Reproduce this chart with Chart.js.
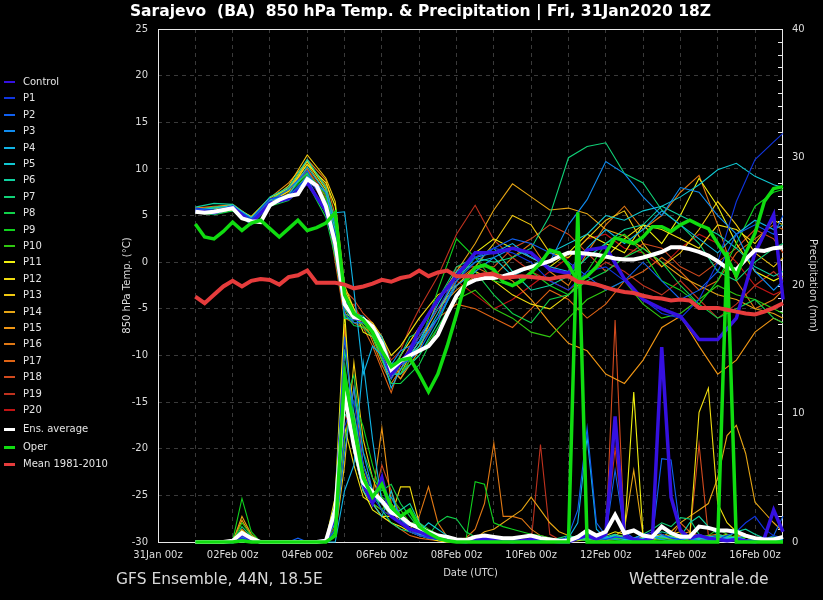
<!DOCTYPE html>
<html>
<head>
<meta charset="utf-8">
<script src="https://cdn.jsdelivr.net/npm/chart.js@4.4.1/dist/chart.umd.min.js"></script>
<style>
  html, body { margin: 0; padding: 0; background: #000; }
  #wrap { position: relative; width: 823px; height: 600px; background: #000; overflow: hidden; font-family: "DejaVu Sans", sans-serif; }
  #chart { position: absolute; left: 0; top: 0; }
  #title { position: absolute; left: 0; width: 841px; top: 2px; text-align: center; color: #fff; font-weight: bold; font-size: 15.5px; white-space: pre; }
  .foot { position: absolute; top: 570px; color: #d8d8d8; font-size: 15.5px; white-space: pre; }
  #legend .item { position: absolute; left: 0; height: 14px; color: #e4e4e4; font-size: 10px; white-space: pre; }
  #legend .swatch { position: absolute; left: 4px; width: 11px; }
  #legend .label { position: absolute; left: 23px; top: 0; line-height: 14px; }
</style>
</head>
<body>
<div id="wrap">
  <canvas id="chart" width="823" height="600"></canvas>
  <div id="title">Sarajevo  (BA)  850 hPa Temp. &amp; Precipitation | Fri, 31Jan2020 18Z</div>
  <div id="legend"></div>
  <div class="foot" style="left:116px">GFS Ensemble, 44N, 18.5E</div>
  <div class="foot" style="left:629px">Wetterzentrale.de</div>
</div>
<script>
// forecast hours counted from 31Jan 00z
const hours6 = [24,30,36,42,48,54,60,66,72,78,84,90,96,102,108,114,120,126,132,138,144,150,156,162,
  168,174,180,186,192,198,204,210,216,222,228,234,240,246,252,258,264,270,276,282,288,294,300,306,
  312,318,324,330,336,342,348,354,360,366,372,378,384,390,396,402];
const hoursM = [24,36,48,60,72,84,96,108,114,120,126,132,138,144,150,156,162,168,180,192,204,216,
  228,240,252,264,276,288,300,312,324,336,348,360,372,384,396,402];

const dateLabels = ['31Jan 00z','02Feb 00z','04Feb 00z','06Feb 00z','08Feb 00z','10Feb 00z','12Feb 00z','14Feb 00z','16Feb 00z'];
const gridHours = [0,24,48,72,96,120,144,168,192,216,240,264,288,312,336,360,384];

const memberNames = ['Control','P1','P2','P3','P4','P5','P6','P7','P8','P9','P10',
  'P11','P12','P13','P14','P15','P16','P17','P18','P19','P20'];
const memberColors = ['#3510e0','#1035e0','#1060f0','#108cf0','#10b4e6','#10c8d2','#10d2a0','#10d278',
  '#10d24a','#10d21e','#30c810','#f0f010','#f0dc10','#f0c810','#e6a514','#f09614','#e07814',
  '#e06414','#d24a1e','#c0321e','#c01414'];

// 850 hPa temperature (°C), members on hoursM
const tControl = [5.5,5.3,5.9,4.2,6.3,6.8,8.5,5.5, 2.0,-4.5,-6.0,-6.2,-7.0,-9.0,-12.0,-10.8,-9.5,-7.2,
  -4.0,-1.5,1.0,1.0,1.5,1.0,-0.8,-1.2,1.3,1.6,-1.8,-4.0,-5.0,-5.8,-8.3,-8.3,-6.0,1.0,5.1,-4.0];
const tP1 = [5.8,5.6,6.0,4.6,6.8,7.2,9.0,6.5, 3.0,-4.0,-5.8,-6.0,-6.8,-8.5,-11.5,-10.5,-9.8,-8.0,
  -5.0,-1.5,0.5,1.5,1.0,0.0,-2.0,-3.0,-1.0,-0.5,-2.0,-4.0,-5.5,-6.0,-4.0,0.0,6.5,11.0,12.9,13.8];
const tP2 = [5.5,5.4,5.8,4.4,6.5,7.8,9.8,6.0, 1.0,-5.5,-6.5,-6.5,-7.5,-10.0,-12.5,-11.0,-10.5,-9.5,
  -6.0,-2.0,0.0,1.5,2.5,2.0,1.0,0.0,-1.5,-3.0,-2.0,0.0,-2.0,-4.0,-3.0,-1.0,3.0,4.0,3.0,5.0];
const tP3 = [5.7,5.5,5.9,4.7,6.8,7.0,9.2,7.5, 4.0,-3.5,-5.5,-6.0,-7.5,-9.0,-11.0,-9.5,-9.0,-8.5,
  -6.0,-2.5,-1.0,0.5,1.5,0.5,0.0,4.0,6.7,10.8,9.5,7.0,5.0,8.0,7.5,5.0,3.0,-1.0,-3.0,-2.0];
const tP4 = [5.4,5.2,5.7,4.3,6.2,6.8,9.0,5.2, 5.3,5.4,-3.0,-12.0,-9.0,-10.0,-13.5,-11.5,-10.0,-8.5,
  -4.5,-1.0,0.5,1.0,2.0,0.5,-0.5,-1.0,1.5,3.5,2.0,3.5,5.5,4.0,2.5,1.0,3.0,4.5,3.5,4.0];
const tP5 = [5.6,5.8,6.1,4.8,6.6,7.2,10.2,7.5, 3.5,-4.0,-5.5,-5.8,-7.0,-8.0,-11.0,-11.0,-10.0,-9.0,
  -5.5,-1.5,0.0,0.5,-1.5,-0.5,1.0,2.0,3.0,5.0,4.5,5.5,6.0,7.0,8.3,9.9,10.6,9.2,8.3,8.0];
const tP6 = [5.9,6.3,6.2,4.7,7.0,8.0,11.0,8.0, 4.5,-6.0,-6.2,-6.0,-7.2,-9.5,-12.0,-12.0,-11.0,-10.0,
  -6.5,-2.0,0.5,1.5,-1.0,-3.0,-2.5,-1.5,0.5,2.0,3.5,4.0,6.0,5.0,4.0,3.0,1.5,-0.5,-1.5,-1.0];
const tP7 = [5.6,5.9,6.0,4.5,6.7,7.8,9.5,6.5, 2.5,-5.0,-6.5,-6.5,-7.0,-9.5,-11.5,-10.0,-8.0,-7.5,
  -4.0,-0.5,0.5,0.0,0.5,1.5,5.0,11.2,12.4,12.8,9.5,8.5,5.6,4.0,2.0,-1.0,-2.0,0.0,1.5,2.0];
const tP8 = [5.3,5.1,5.5,4.0,6.0,6.6,8.5,4.8, 0.5,-5.5,-6.8,-7.0,-8.0,-10.5,-13.0,-13.0,-12.0,-11.0,
  -7.0,-3.5,-1.0,-3.5,-5.5,-6.5,-4.0,-3.5,-2.0,-1.0,0.5,1.5,0.0,-2.5,-4.5,-6.0,-5.0,-4.0,-6.0,-6.5];
const tP9 = [5.7,5.6,6.0,4.4,6.3,7.3,9.6,7.2, 3.0,-6.0,-6.0,-6.8,-7.5,-9.0,-12.0,-12.0,-10.5,-9.0,
  -3.0,2.5,0.5,-2.0,-2.5,-1.0,-2.5,-3.5,-1.0,2.0,3.0,1.0,-2.0,-3.0,-4.5,-2.0,2.0,6.0,7.5,7.8];
const tP10 = [5.6,5.4,5.8,4.6,6.4,7.0,9.4,6.8, 2.0,-4.5,-6.0,-6.2,-7.8,-9.5,-10.8,-11.5,-11.0,-10.0,
  -7.0,-4.0,-3.0,-5.0,-6.0,-7.5,-8.0,-6.0,-4.0,-3.0,-2.0,-4.5,-6.0,-5.5,-4.0,-2.5,-3.5,-4.0,-5.0,-5.5];
const tP11 = [5.4,5.2,5.6,4.2,6.4,7.6,10.5,8.5, 6.0,-3.0,-5.0,-7.5,-8.0,-10.5,-12.5,-10.0,-8.5,-7.0,
  -4.0,-1.5,1.0,2.5,1.5,0.5,-0.5,1.0,3.0,2.0,1.0,4.0,2.0,5.0,9.0,6.0,2.0,-1.0,-2.0,-1.5];
const tP12 = [5.8,5.7,6.0,4.9,6.9,7.9,10.8,7.8, 1.5,-5.5,-6.0,-6.0,-6.5,-8.0,-10.0,-9.0,-7.5,-6.0,
  -3.5,-2.5,-1.0,-2.0,-3.5,-4.5,-5.0,-3.5,-1.5,0.5,2.5,4.0,3.5,2.5,1.5,4.0,3.5,2.0,4.5,4.0];
const tP13 = [5.5,5.3,5.9,4.5,6.6,8.2,11.5,9.0, 6.5,-2.5,-5.0,-6.5,-7.5,-9.0,-11.0,-12.0,-10.0,-8.5,
  -5.0,-2.5,-0.5,2.0,5.0,4.0,1.0,0.5,2.5,4.5,5.5,2.0,-0.5,1.0,3.5,6.5,4.0,1.0,-0.5,0.5];
const tP14 = [5.6,5.5,6.1,4.6,6.5,7.8,10.5,7.5, 3.0,-4.0,-6.0,-6.0,-7.0,-9.5,-11.5,-12.5,-11.0,-9.5,
  -4.0,-1.0,2.0,5.6,8.4,7.0,5.6,5.8,5.2,3.5,2.8,1.5,0.0,-1.5,-2.5,-3.5,-4.0,-5.0,-5.5,-6.0];
const tP15 = [5.7,5.9,6.2,4.8,6.9,8.5,10.8,8.2, 4.0,-3.8,-5.5,-6.8,-8.0,-10.0,-12.0,-11.0,-9.0,-8.0,
  -5.0,-3.0,-1.5,-1.0,-2.0,-4.0,-6.5,-8.7,-9.5,-12.0,-13.0,-10.5,-7.0,-5.8,-9.0,-12.0,-10.5,-7.5,-6.0,-6.5];
const tP16 = [5.5,5.4,5.7,4.4,6.2,7.0,11.0,8.8, 5.0,-5.0,-5.5,-6.0,-8.5,-11.0,-13.0,-11.5,-9.5,-8.0,
  -5.0,-2.0,-0.5,-1.5,0.5,2.0,-1.0,-2.5,1.0,4.0,6.0,3.5,5.0,7.5,9.3,4.0,-2.0,-5.0,-4.0,-3.0];
const tP17 = [5.8,6.0,6.1,4.7,6.6,8.0,10.0,6.5, 0.0,-6.0,-6.5,-7.0,-9.0,-11.5,-14.0,-11.0,-10.0,-8.5,
  -6.0,-4.5,-5.0,-6.0,-7.0,-5.0,-3.0,-4.0,-6.0,-4.5,-2.0,-1.0,0.5,-1.0,-3.0,-2.0,1.0,2.5,4.0,3.5];
const tP18 = [5.5,5.3,5.8,4.5,6.3,7.4,9.8,7.0, 4.5,-3.0,-4.0,-5.5,-6.5,-8.0,-11.0,-12.5,-10.5,-9.0,
  -6.0,-0.5,-0.5,-0.5,1.5,2.5,4.0,3.0,1.0,-1.0,0.5,2.0,1.5,-0.5,-1.5,0.0,1.5,3.5,2.5,1.0];
const tP19 = [5.6,5.5,5.9,4.4,6.7,7.6,10.0,7.2, 2.0,-5.5,-4.5,-6.5,-7.0,-8.0,-10.5,-9.5,-7.0,-5.0,
  -1.5,3.0,6.1,2.4,0.5,-1.0,-2.0,-3.0,-1.5,0.0,-1.0,-2.5,-3.5,-2.0,-4.0,-6.0,-4.5,-2.5,-1.0,-2.0];
const tP20 = [5.4,5.2,5.6,4.3,6.2,7.1,9.2,6.2, 1.0,-4.8,-5.0,-6.0,-7.5,-9.5,-12.0,-10.0,-8.5,-7.0,
  -4.0,-2.0,-3.5,-5.0,-4.0,-2.5,-1.0,0.5,2.5,3.0,1.5,1.0,-0.5,1.5,3.0,2.0,0.0,-2.5,-3.5,-3.0];

// 6-hourly precipitation (mm), members on hours6
const pControl = [0,0,0,0,0,0.6,0.2,0, 0,0,0,0,0,0,0.1,2.0, 13.0,8.0,4.5,3.0,5.0,2.0,1.5,1.0,
  0.8,0.5,0.3,0.2,0.1,0,0.2,0.3, 0.2,0.1,0,0.1,0.2,0.3,0.1,0, 0,0.3,0.5,0.2,0.6,9.8,0.5,0.2,
  0.1,0.3,15.2,3.5,0.9,0.3,0.5,0.3, 0.2,0.1,0.2,0.1,0,0.3,2.5,0.8];
const pP1 = [0,0,0,0,0,0.3,0.1,0, 0,0,0,0,0,0,0,1.0, 9.0,11.0,6.0,3.5,2.5,2.0,1.5,0.8,
  0.5,0.3,0.2,0.1,0,0,0.1,0.1, 0.2,0.3,0.2,0.1,0,0,0,0, 0.1,0.2,0.5,0.3,0.2,0.4,0.3,0.2,
  0.5,0.8,0.6,0.3,0.2,0.4,0.6,0.3, 0.2,0.5,0.8,1.5,2.0,1.0,0.5,0.3];
const pP2 = [0,0,0,0,0,0.5,0.2,0, 0,0,0,0.3,0,0,0.2,3.0, 16.0,9.0,5.0,4.0,3.0,2.5,2.0,1.0,
  0.5,0.4,0.2,0.1,0,0,0.1,0.2, 0.1,0,0,0.1,0.2,0.1,0,0, 0.5,2.5,8.9,1.5,0.5,5.6,0.8,0.3,
  0.2,0.4,6.5,6.4,0.8,0.2,0.1,0.2, 0.3,0.2,0.1,0.1,0,0.2,0.5,2.0];
const pP3 = [0,0,0,0,0,0.4,0.1,0, 0,0,0,0,0,0,0,0.5, 7.0,12.0,7.0,4.0,3.0,3.5,2.0,1.5,
  1.0,0.6,0.3,0.2,0.1,0,0,0.1, 0.3,0.2,0.1,0,0,0,0.1,0.2, 0.3,0.4,0.6,0.5,0.3,0.2,0.1,0.3,
  0.6,0.4,0.2,0.1,0.2,0.3,0.1,0.1, 0.2,0.1,0.3,0.5,0.3,0.1,0.2,0.4];
const pP4 = [0,0,0,0,0,0.2,0,0, 0,0,0,0,0,0,0,0, 4.0,6.0,14.0,8.0,3.0,2.5,1.8,1.0,
  0.6,0.4,0.2,0.1,0,0,0,0.1, 0.1,0,0,0,0.1,0.1,0,0, 0.3,1.5,8.2,1.0,0.3,0.4,0.3,0.2,
  0.2,0.3,0.5,0.4,0.2,0.3,0.2,0.4, 0.5,0.3,0.2,0.1,0.2,0.1,0.3,0.2];
const pP5 = [0,0,0,0,0,0.6,0.3,0, 0,0,0,0,0,0,0.1,1.5, 12.0,7.0,4.0,3.0,2.0,4.0,1.5,1.0,
  0.8,1.5,1.0,0.5,0.2,0.1,0,0, 0,0.1,0.2,0.1,0,0,0,0.1, 0.2,0.3,0.4,0.2,0.3,0.5,0.2,0.1,
  0.3,0.5,0.4,0.3,0.2,0.4,0.3,0.2, 0.1,0.3,0.4,0.2,0.1,0.2,0.1,0.3];
const pP6 = [0,0,0,0,0,0.8,0.2,0, 0,0,0,0,0,0,0,2.5, 10.0,9.0,5.0,3.5,3.0,2.0,2.5,3.0,
  1.5,0.8,0.4,0.2,0.1,0,0.2,0.1, 0,0,0.1,0.1,0,0,0.2,0.1, 0.1,0.2,0.3,0.2,0.4,0.6,0.3,0.2,
  0.3,0.5,0.8,0.6,0.4,1.5,2.0,1.2, 0.6,0.4,0.8,1.0,0.6,0.3,0.2,0.1];
const pP7 = [0,0,0,0,0,1.2,0.4,0, 0,0,0,0,0,0,0,1.0, 15.0,10.0,6.0,4.0,2.5,1.5,1.0,0.8,
  0.5,0.3,0.2,0.1,0,0,0,0, 0,0,0.1,0,0,0,0.1,0.3, 0.5,0.3,0.2,0.3,0.2,0.4,0.5,0.3,
  0.6,1.0,1.5,1.2,1.9,1.8,0.6,0.3, 0.2,0.3,0.2,0.1,0.3,0.2,0.1,0.2];
const pP8 = [0,0,0,0,0,0.5,0.3,0, 0,0,0,0,0,0,0,0.8, 11.0,13.0,7.0,5.0,4.0,4.5,3.0,2.0,
  1.0,0.5,1.5,2.0,1.8,0.8,0.4,0.2, 0.1,0,0,0,0,0,0,0, 0.1,0.2,0.1,0.3,0.2,0.3,0.2,0.1,
  0.2,0.4,0.3,0.5,0.4,0.2,0.3,0.2, 0.4,0.5,0.3,0.2,0.1,0.2,0.4,0.3];
const pP9 = [0,0,0,0,0.1,3.4,0.8,0, 0,0,0,0,0,0,0,1.5, 8.0,11.0,9.0,6.0,3.5,3.0,2.0,1.5,
  1.0,0.7,0.4,0.3,0.2,0.1,4.7,4.5, 1.5,1.2,1.0,0.8,0.6,0.5,0.3,0.1, 0.1,0.2,0.4,0.3,0.2,0.5,0.3,0.2,
  0.3,0.4,0.2,0.1,0.3,0.2,0.1,0.2, 0.1,0.3,0.2,0.4,0.2,0.1,0.2,0.1];
const pP10 = [0,0,0,0,0,1.5,0.5,0, 0,0,0,0,0,0,0,1.0, 14.0,8.0,5.0,3.0,2.5,3.5,2.5,1.5,
  1.5,1.0,0.6,0.3,0.2,0.1,0,0.1, 0.2,0.1,0,0,0,0,0,0, 0.2,0.5,0.3,0.2,0.4,0.2,0.1,0.3,
  0.2,0.1,0.3,0.2,0.1,0.3,0.4,0.5, 1.0,0.6,0.3,0.2,0.1,0.3,0.2,0.1];
const pP11 = [0,0,0,0,0,0.9,0.3,0, 0,0,0,0,0,0,0.2,3.5, 18.0,7.0,4.0,2.5,2.0,1.5,1.2,0.8,
  0.5,0.3,0.1,0,0,0,0.1,0.1, 0,0,0,0,0,0.1,0,0, 0.1,0.1,0.2,0.3,0.5,0.8,0.6,11.7,
  0.5,0.3,0.2,0.4,0.3,0.2,0.1,0.2, 0.3,0.4,0.3,0.2,0.1,0.3,0.2,0.1];
const pP12 = [0,0,0,0,0,0.7,0.2,0, 0,0,0,0,0,0,0,2.0, 9.0,6.0,3.5,3.0,2.0,2.0,4.3,4.3,
  1.5,0.5,0.3,0.2,0.1,0,0,0, 0,0,0,0,0,0.1,0.1,0, 0.1,0.2,0.4,0.3,0.2,0.6,0.4,0.3,
  0.2,0.4,0.6,0.3,0.5,0.4,10.1,12.0, 3.0,1.5,0.8,0.4,0.2,0.1,0.2,0.3];
const pP13 = [0,0,0,0,0,0.4,0.2,0, 0,0,0,0,0,0,0,0.5, 6.0,14.0,8.0,5.0,3.0,2.5,1.5,1.0,
  0.8,0.5,0.3,0.2,0,0,0,0, 0,0,0,0.1,0.1,0.2,0.1,0, 0.2,0.5,0.3,0.4,0.2,0.3,0.5,0.3,
  0.4,0.2,0.3,0.6,0.8,0.5,0.3,0.2, 0.4,0.6,0.3,0.2,0.1,0.2,0.3,0.2];
const pP14 = [0,0,0,0,0,2.0,0.6,0, 0,0,0,0,0,0,0,1.0, 12.0,10.0,6.0,4.0,3.0,2.0,1.5,1.0,
  0.7,0.5,0.3,0.2,0.1,0.2,0.3,0.8, 1.0,1.5,2.0,2.5,3.5,2.5,1.5,0.8, 0.5,0.3,0.6,0.4,0.2,0.5,1.0,5.6,
  0.5,0.3,0.4,0.8,1.5,2.0,2.5,3.0, 5.0,8.3,9.1,6.9,3.1,2.3,1.5,0.8];
const pP15 = [0,0,0,0,0,1.7,0.5,0, 0,0,0,0,0,0,0,2.0, 10.0,9.0,5.5,3.5,8.9,3.0,2.0,1.5,
  1.0,0.6,0.4,0.2,0.1,0,0,0, 0,0,0,0,0,0,0,0.1, 0.2,0.3,0.2,0.1,0.3,0.4,0.2,0.3,
  0.5,0.3,0.2,0.4,0.6,0.8,0.5,0.3, 0.2,0.3,0.5,0.4,0.2,0.1,0.2,0.3];
const pP16 = [0,0,0,0,0,1.0,0.3,0, 0,0,0,0,0,0,0,0.5, 8.0,12.0,6.0,4.0,3.0,2.0,1.5,1.0,
  2.0,4.3,1.5,0.4,0.2,0.3,1.0,3.0, 7.7,2.0,2.0,1.8,1.0,0.5,0.3,0.2, 0.1,0.2,0.3,0.2,0.1,0.2,0.3,0.2,
  0.3,0.5,0.4,0.2,0.6,0.4,0.3,0.5, 0.6,0.4,0.3,0.5,0.3,0.2,0.1,0.2];
const pP17 = [0,0,0,0,0,0.8,0.2,0, 0,0,0,0,0,0,0,1.5, 17.0,8.0,5.0,3.0,2.0,1.5,1.0,0.5,
  0.3,0.2,0.1,0,0,0,0,0, 0,0,0,0,0,0,0,0, 0.1,0.2,0.1,0.3,0.2,0.4,0.2,0.1,
  0.3,0.2,0.5,0.3,1.5,0.8,0.4,0.2, 0.3,0.2,0.4,0.6,0.3,0.2,0.1,0.2];
const pP18 = [0,0,0,0,0,0.3,0.1,0, 0,0,0,0,0,0,0.1,0.8, 11.0,9.0,5.0,3.0,6.0,4.0,2.0,1.0,
  0.6,0.4,0.2,0.1,0,0,0,0, 0,0,0,0,0,0,0,0, 0.1,0.2,0.3,0.2,0.3,17.3,0.5,0.3,
  0.2,0.3,0.4,0.3,0.5,0.4,7.6,0.5, 0.1,0.2,0.3,0.2,0.1,0.2,0.3,0.1];
const pP19 = [0,0,0,0,0,0.5,0.2,0, 0,0,0,0,0,0,0,1.2, 13.0,7.0,4.0,3.0,2.5,2.0,1.5,1.0,
  0.5,0.3,0.2,0.1,0,0,0,0, 0,0,0,0,0,7.6,0.6,0.2, 0.1,0.2,0.3,0.4,0.5,7.3,0.4,0.2,
  0.3,0.2,0.4,0.3,0.2,0.1,0.2,0.3, 0.2,0.1,0.3,0.2,0.1,0.2,0.3,0.2];
const pP20 = [0,0,0,0,0,0.4,0.1,0, 0,0,0,0,0,0,0,1.0, 10.0,8.0,6.0,4.0,3.0,2.0,1.5,1.0,
  0.6,0.4,0.2,0.1,0,0,0,0, 0,0,0,0,0,0,0,0, 0.2,0.3,0.5,0.3,0.2,0.4,0.3,0.2,
  0.3,0.5,0.4,0.2,0.3,0.4,0.2,0.1, 0.2,0.3,0.2,0.1,0.2,0.3,0.2,0.1];

// ensemble average, operational run and climatology on hours6
const tAverage = [5.4,5.3,5.4,5.6,5.8,4.7,4.4,4.3, 6.1,6.7,7.1,7.3,8.9,8.2,6.0,2.0,
  -4.5,-5.9,-6.1,-6.9,-8.7,-11.5,-10.6,-10.0, -9.5,-9.0,-7.8,-5.6,-3.6,-2.4,-1.9,-1.7,
  -1.7,-1.5,-1.2,-0.8,-0.5,-0.2,0.1,0.6, 1.0,1.0,0.9,0.8,0.6,0.4,0.3,0.3,
  0.5,0.8,1.1,1.6,1.6,1.4,1.1,0.7, 0.1,-0.6,-0.8,0.3,1.3,1.2,1.5,1.6];
const pAverage = [0,0,0,0,0.1,0.7,0.3,0, 0,0,0,0,0,0,0.1,2.5, 11.5,7.5,4.6,3.9,3.2,2.3,2.0,1.4,
  1.1,0.8,0.5,0.4,0.2,0.15,0.4,0.5, 0.4,0.3,0.3,0.4,0.5,0.3,0.2,0.1, 0.1,0.4,0.9,0.5,0.8,2.1,0.7,0.9,
  0.5,0.4,1.2,0.7,0.4,0.4,1.2,1.1, 0.9,0.9,0.8,0.5,0.3,0.2,0.2,0.4];
const tOper = [4.1,2.7,2.5,3.3,4.3,3.4,4.2,4.5, 3.6,2.7,3.6,4.5,3.4,3.7,4.2,5.3,
  -3.5,-5.5,-6.2,-7.5,-9.5,-11.2,-10.5,-10.3, -12.0,-13.9,-12.0,-9.0,-5.6,-2.0,-0.6,-0.3,
  -0.8,-2.1,-2.5,-2.0,-1.1,-0.1,1.3,1.0, -0.3,-2.1,-1.5,-0.5,1.0,2.6,2.3,2.0,
  2.7,3.8,3.8,3.3,4.0,4.5,4.0,3.6, 2.0,0.5,-1.5,1.0,3.1,6.5,7.9,8.1];
const pOper = [0,0,0,0,0,0.1,0,0, 0,0,0,0,0,0,0,0.5, 13.0,9.0,5.0,3.5,4.5,2.7,2.0,2.5,
  1.2,0.7,0.3,0.1,0,0,0,0, 0,0,0,0,0,0,0,0, 0,25.7,0,0,0,0,0,0,
  0,0,0,0,0,0,0,0, 0,22.6,0,0,0,0,0,0];
const tMean = [-3.7,-4.4,-3.5,-2.6,-2.0,-2.6,-2.0,-1.8, -1.9,-2.4,-1.6,-1.4,-0.9,-2.2,-2.2,-2.2,
  -2.4,-2.8,-2.6,-2.3,-1.9,-2.1,-1.7,-1.5, -0.9,-1.5,-1.1,-0.9,-1.5,-1.5,-1.5,-1.3,
  -1.3,-1.7,-1.6,-1.5,-1.6,-1.7,-1.8,-1.6, -1.5,-2.1,-2.2,-2.4,-2.7,-3.0,-3.2,-3.3,
  -3.6,-3.8,-3.9,-4.1,-4.0,-4.1,-4.9,-4.9, -4.9,-5.1,-5.3,-5.5,-5.6,-5.3,-4.9,-4.4];

const memberTemps = [tControl,tP1,tP2,tP3,tP4,tP5,tP6,tP7,tP8,tP9,tP10,tP11,tP12,tP13,tP14,tP15,tP16,tP17,tP18,tP19,tP20];
const memberPrecip = [pControl,pP1,pP2,pP3,pP4,pP5,pP6,pP7,pP8,pP9,pP10,pP11,pP12,pP13,pP14,pP15,pP16,pP17,pP18,pP19,pP20];

const pts = (hrs, vals) => vals.map((v, i) => ({x: hrs[i], y: v}));

function line(label, hrs, vals, color, width, axis, order) {
  return {
    label: label,
    data: pts(hrs, vals),
    borderColor: color,
    backgroundColor: color,
    borderWidth: width,
    yAxisID: axis,
    order: order,
    pointRadius: 0,
    tension: 0,
    fill: false,
    clip: 4
  };
}

let datasets = [];
memberNames.forEach((name, i) => {
  const thick = i === 0;
  datasets.push(line(name, hoursM, memberTemps[i], memberColors[i], thick ? 3.5 : 1.1, 'y', thick ? 3 : 10));
  datasets.push(line(name + ' precip', hours6, memberPrecip[i], memberColors[i], thick ? 3.5 : 1.1, 'y2', thick ? 3 : 10));
});
datasets.push(line('Ens. average', hours6, tAverage, '#ffffff', 4, 'y', 2));
datasets.push(line('Ens. average precip', hours6, pAverage, '#ffffff', 4, 'y2', 2));
datasets.push(line('Oper', hours6, tOper, '#10dc10', 3.5, 'y', 1));
datasets.push(line('Oper precip', hours6, pOper, '#10dc10', 3.5, 'y2', 1));
datasets.push(line('Mean 1981-2010', hours6, tMean, '#e63c3c', 4, 'y', 0));

const tickColor = '#dcdcdc';
const tickFont = {family: 'DejaVu Sans', size: 10};
const gridColor = '#3a3a3a';

// white frame and the small inward mm ticks on the right axis
const framePlugin = {
  id: 'frame',
  beforeDatasetsDraw(chart) {
    const {ctx, chartArea: a, scales} = chart;
    ctx.save();
    ctx.strokeStyle = '#e8e8e8';
    ctx.lineWidth = 1;
    ctx.strokeRect(a.left + 0.5, a.top + 0.5, a.right - a.left - 1, a.bottom - a.top);
    for (let mm = 1; mm < 40; mm++) {
      const y = Math.round(scales.y2.getPixelForValue(mm)) + 0.5;
      ctx.beginPath();
      ctx.moveTo(a.right - 5, y);
      ctx.lineTo(a.right, y);
      ctx.stroke();
    }
    ctx.restore();
  }
};

new Chart(document.getElementById('chart'), {
  type: 'line',
  data: { datasets: datasets },
  plugins: [framePlugin],
  options: {
    responsive: false,
    animation: false,
    devicePixelRatio: 1,
    layout: { padding: { left: 117, right: 0, top: 29, bottom: 0 } },
    plugins: { legend: { display: false }, tooltip: { enabled: false } },
    scales: {
      x: {
        type: 'linear',
        min: 0,
        max: 402,
        afterFit: s => { s.height = 58; },
        afterBuildTicks: s => { s.ticks = gridHours.map(v => ({value: v})); },
        ticks: {
          color: tickColor, font: tickFont, padding: 7, maxRotation: 0, autoSkip: false,
          callback: v => (v % 48 === 0 ? dateLabels[v / 48] : '')
        },
        grid: { color: gridColor, drawTicks: false },
        border: { display: false, dash: [4, 4] },
        title: { display: true, text: 'Date (UTC)', color: tickColor, font: tickFont, padding: { top: 0, bottom: 21 } }
      },
      y: {
        position: 'left',
        min: -30,
        max: 25,
        afterFit: s => { s.width = 41; },
        ticks: { stepSize: 5, color: tickColor, font: tickFont, padding: 10 },
        grid: { color: gridColor, drawTicks: false },
        border: { display: false, dash: [4, 4] },
        title: { display: true, text: '850 hPa Temp. (°C)', color: tickColor, font: tickFont, padding: { top: 4 } }
      },
      y2: {
        position: 'right',
        min: 0,
        max: 40,
        afterFit: s => { s.width = 40; },
        ticks: { stepSize: 10, color: tickColor, font: tickFont, padding: 9 },
        grid: { drawOnChartArea: false, drawTicks: false },
        border: { display: false },
        title: { display: true, text: 'Precipitation (mm)', color: tickColor, font: tickFont, padding: { top: 4 } }
      }
    }
  }
});

// legend on the left
const legendNames = memberNames.concat(['Ens. average', 'Oper', 'Mean 1981-2010']);
const legendColors = memberColors.concat(['#ffffff', '#10dc10', '#e63c3c']);
const legendY = legendNames.map((n, i) => (i < 21 ? 82 + i * 16.4 : [429, 447, 464][i - 21]));
const legend = document.getElementById('legend');
legendNames.forEach((name, i) => {
  const item = document.createElement('div');
  item.className = 'item';
  item.style.top = (legendY[i] - 7) + 'px';
  const sw = document.createElement('div');
  sw.className = 'swatch';
  const h = i >= 21 ? 3 : 2;
  sw.style.height = h + 'px';
  sw.style.top = (7 - h / 2) + 'px';
  sw.style.background = legendColors[i];
  const lb = document.createElement('div');
  lb.className = 'label';
  lb.textContent = name;
  item.appendChild(sw);
  item.appendChild(lb);
  legend.appendChild(item);
});
</script>
</body>
</html>
